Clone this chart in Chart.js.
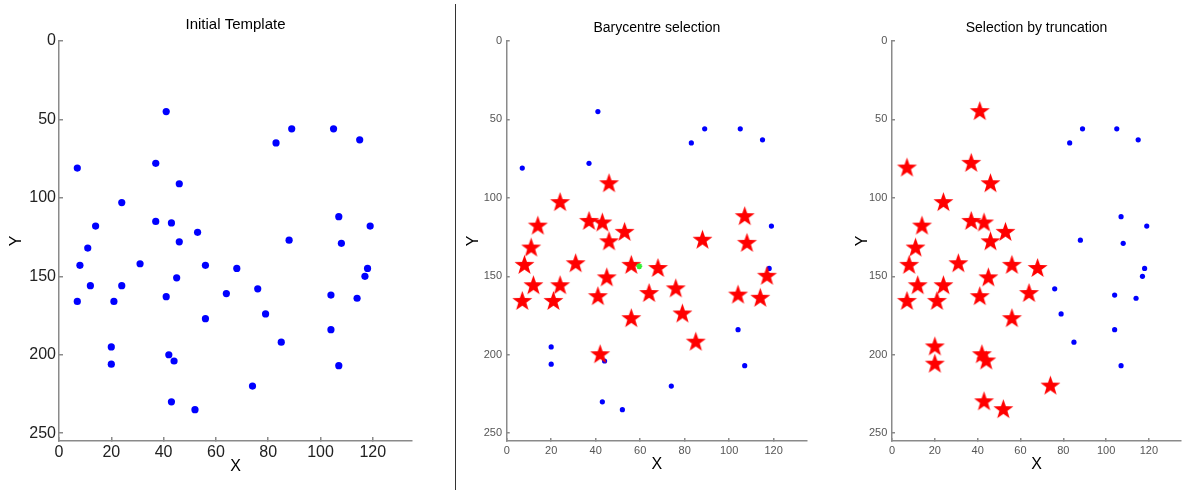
<!DOCTYPE html>
<html>
<head>
<meta charset="utf-8">
<script src="https://cdn.jsdelivr.net/npm/chart.js@4.4.1/dist/chart.umd.min.js"></script>
<style>
  html,body{margin:0;padding:0;background:#fff;}
  #wrap{position:relative;width:1185px;height:493px;overflow:hidden;}
  canvas{position:absolute;top:0;}
  #divider{position:absolute;left:455px;top:4px;width:1px;height:486px;background:#333;}
</style>
</head>
<body>
<div id="wrap">
  <canvas id="c1" width="455" height="493" style="left:0"></canvas>
  <div id="divider"></div>
  <canvas id="c2" width="380" height="493" style="left:456px"></canvas>
  <canvas id="c3" width="349" height="493" style="left:836px"></canvas>
</div>
<script>
// template points (x, y with y growing downwards)
const templateX=[7,41,37,46,24,14,37,43,53,46,11,8,31,56,68,12,24,45,7,21,41,64,56,20,20,42,44,43,52,
  89,105,83,115,107,119,88,108,118,117,76,104,114,79,104,85,107,74];
const templateY=[81,45,78,91,103,118,115,116,122,128,132,143,142,143,145,156,156,151,166,166,163,161,177,195,206,200,204,230,235,
  56,56,65,63,112,118,127,129,145,150,158,162,164,174,184,192,207,220];
// which points are starred in each panel
const baryStars=[3,4,5,6,7,8,9,10,11,12,13,14,15,16,17,18,19,20,21,22,25,33,35,36,38,39,40,41,42,44];
const truncStars=[0,1,2,3,4,5,6,7,8,9,10,11,12,13,14,15,16,17,18,19,20,21,22,23,24,25,26,27,28,46];
const barycentre=[59.6,143.6];
const xTicks=[0,20,40,60,80,100,120];
const yTicks=[0,50,100,150,200,250];
const titles=['Initial Template','Barycentre selection','Selection by truncation'];

const FONT='"Liberation Sans", Arial, sans-serif';
const AXIS='#8a8a8a';

function pts(idx){ return idx.map(i=>({x:templateX[i],y:templateY[i]})); }
const allIdx=templateX.map((_,i)=>i);

function starImage(r,color){
  const c=document.createElement('canvas'); const s=Math.ceil(r*2+2); c.width=c.height=s;
  const g=c.getContext('2d'); g.fillStyle=color; g.beginPath();
  for(let i=0;i<10;i++){
    const rr=i%2?r*0.4:r, a=-Math.PI/2+i*Math.PI/5;
    g.lineTo(s/2+rr*Math.cos(a), s/2+rr*Math.sin(a));
  }
  g.closePath(); g.fill(); return c;
}
const STAR=starImage(10.5,'#ff0000');

function makePanel(id,p){
  new Chart(document.getElementById(id),{
    type:'scatter',
    data:{datasets:p.datasets},
    options:{
      responsive:false, animation:false, events:[],
      layout:{autoPadding:false,padding:{left:0,right:p.right,top:0,bottom:0}},
      plugins:{
        legend:{display:false}, tooltip:{enabled:false},
        title:{display:true,text:p.title,fullSize:false,color:'#000',
          font:{family:FONT,size:p.titleSize,weight:'normal',lineHeight:1.2},
          padding:{top:p.titleTop,bottom:41-p.titleTop-p.titleSize*1.2}}
      },
      scales:{
        x:{type:'linear',min:0,max:135,
          afterBuildTicks:s=>{s.ticks=xTicks.map(v=>({value:v}));},
          afterFit:s=>{s.height=52;},
          border:{color:AXIS,width:1.5},
          grid:{drawOnChartArea:false,tickLength:-p.tick,color:AXIS,lineWidth:1.5},
          ticks:{color:p.tickColor,font:{family:FONT,size:p.tickSize},padding:p.xPad,maxRotation:0},
          title:{display:true,text:'X',color:'#000',font:{family:FONT,size:16,lineHeight:1.2},padding:{top:0,bottom:p.xTitlePad}}},
        y:{type:'linear',min:0,max:255,reverse:true,
          afterBuildTicks:s=>{s.ticks=yTicks.map(v=>({value:v}));},
          afterFit:s=>{s.width=p.left;},
          border:{color:AXIS,width:1.5},
          grid:{drawOnChartArea:false,tickLength:-p.tick,color:AXIS,lineWidth:1.5},
          ticks:{color:p.tickColor,font:{family:FONT,size:p.tickSize},padding:p.yPad},
          title:{display:true,text:'Y',color:'#000',font:{family:FONT,size:16,lineHeight:1.2},padding:{top:p.yTitlePad,bottom:0}}}
      }
    }
  });
}

// higher order is drawn first (underneath)
function dots(r){
  return {data:pts(allIdx),order:3,pointStyle:'circle',pointRadius:r,backgroundColor:'#0000ff',borderColor:'#0000ff',borderWidth:0,showLine:false};
}
function stars(idx){
  return {data:pts(idx),order:2,pointStyle:STAR,pointRadius:10.5,backgroundColor:'#ff0000',showLine:false};
}

makePanel('c1',{title:titles[0],titleSize:15,titleTop:16,left:59,right:43,tick:4,
  tickColor:'#222',tickSize:16,xPad:6,yPad:7,xTitlePad:16.4,yTitlePad:7.4,
  datasets:[dots(3.6)]});

makePanel('c2',{title:titles[1],titleSize:14,titleTop:19.6,left:50.7,right:29,tick:3,
  tickColor:'#555',tickSize:11,xPad:6.4,yPad:7.7,xTitlePad:18.4,yTitlePad:8.4,
  datasets:[dots(2.6),stars(baryStars),
    {data:[{x:barycentre[0],y:barycentre[1]}],order:1,pointStyle:'star',pointRadius:3,borderColor:'#33ee33',borderWidth:1.5,showLine:false}]});

makePanel('c3',{title:titles[2],titleSize:14,titleTop:19.6,left:56,right:4,tick:3,
  tickColor:'#555',tickSize:11,xPad:6.4,yPad:7.7,xTitlePad:18.4,yTitlePad:17.4,
  datasets:[dots(2.6),stars(truncStars)]});
</script>
</body>
</html>
